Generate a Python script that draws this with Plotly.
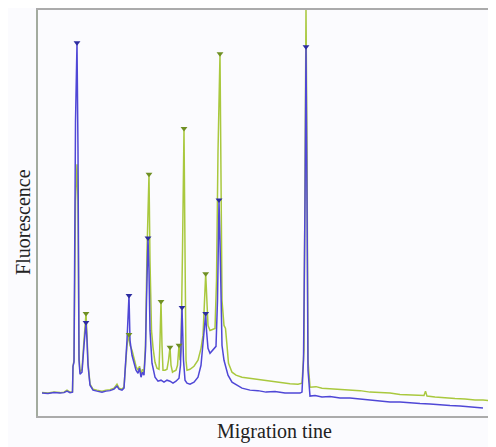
import plotly.graph_objects as go

# Migration time (arbitrary units) and fluorescence (arbitrary units)
blue_time = [4, 10, 16, 22, 26, 29, 32, 34.5, 35, 36, 37.5, 39, 40, 41, 42, 44, 46, 48, 49, 50,
             52, 55, 59, 64, 68, 72, 76, 79, 81, 84, 86, 87.5, 89, 91, 92, 94, 96, 98, 100, 101.5,
             103, 104.5, 106, 107.5, 108.5, 110, 111, 112, 114, 117, 120, 123, 126, 129, 132, 135,
             138, 141, 142.5, 144, 145.5, 147, 149, 152, 156, 160, 163, 165, 167.7, 168.5, 170, 172,
             174, 176, 178, 179.5, 181, 182, 183, 184, 186, 188, 190, 194, 200, 204, 212, 220, 228,
             237, 247, 257, 262, 264, 265.5, 267, 268, 269, 270, 272, 277, 284, 292, 302, 312, 322,
             332, 342, 352, 362, 372, 382, 392, 402, 412, 422, 432, 440, 445]
blue_signal = [23, 22.5, 23.5, 23, 23.5, 25, 23.5, 24, 50, 54, 296, 375, 266, 56, 42, 44, 71, 94, 76, 51,
               31, 26, 25, 24, 25, 25.5, 27, 30, 27, 26, 28, 50, 76, 121, 76, 61, 54, 46, 43, 48,
               39, 44, 41, 66, 116, 179, 146, 86, 53, 39, 35, 36, 34, 36, 35, 33,
               35, 38, 51, 109, 56, 36, 33, 32, 34, 39, 51, 71, 103, 86, 68, 63,
               65, 68, 70, 116, 217, 176, 96, 71, 56, 48, 41, 34, 30, 28, 26, 25.5, 24,
               24.5, 23, 23.5, 23, 24, 56, 216, 371, 216, 46, 20, 20.5, 19, 19.5, 18, 18, 17,
               16, 14.5, 14, 14, 13, 12.5, 12, 11, 10.5, 10, 9, 8.5, 8]

green_time = [4, 10, 16, 22, 26, 29, 32, 34.5, 35, 36, 37.5, 39, 40, 41, 42, 44, 46, 48, 49, 50,
              52, 55, 59, 64, 68, 72, 76, 79, 81, 84, 86, 87.5, 89, 91, 92, 94, 96, 98, 100, 101.5,
              103, 104.5, 106, 107.5, 109, 111, 112, 113.5, 115, 117, 119, 121, 122, 123, 124, 125,
              127, 129, 130.5, 132, 133, 134.5, 136, 138, 139.5, 141, 142, 143, 144.5, 146, 147, 148,
              149, 152, 156, 160, 163, 165, 167.7, 169, 170, 172, 175, 177, 178.5, 180, 182, 183,
              184, 186, 187.5, 189, 190.5, 194, 198, 204, 212, 222, 232, 242, 252, 260, 264, 266,
              267, 268, 269, 270, 272, 278, 284, 292, 302, 312, 322, 332, 342, 352, 362, 372, 382,
              386, 387.5, 389, 397, 407, 417, 427, 437, 445, 452]
green_signal = [23.5, 23, 24, 23.5, 24, 26, 24, 24.5, 50, 56, 216, 253, 216, 61, 44, 47, 76, 103, 81, 54,
                32, 27, 26, 25, 26, 26.5, 28, 32, 28, 27, 29, 54, 71, 82, 71, 66, 58, 50, 46, 50,
                42, 47, 44, 71, 166, 243, 156, 86, 69, 54, 48, 47, 76, 115, 71, 46,
                46, 47, 56, 69, 51, 44, 45, 46, 51, 71, 56, 66, 166, 289, 166, 56,
                46, 47, 50, 56, 68, 81, 143, 106, 91, 86, 87, 88, 136, 266, 364, 266,
                116, 91, 88, 71, 53, 44, 41, 39, 38, 36, 35, 34, 32.5, 32, 33, 66,
                266, 409, 266, 56, 29, 29.5, 28, 27.5, 27, 26, 25.5, 24, 23.5, 23, 21.5, 21, 20,
                20.5, 25, 20, 19, 18, 17.5, 17, 16, 16, 15.5]

# Peak apex markers
green_peak_time = [48, 91, 111, 123, 132, 141, 146, 167.7, 182, 268]
green_peak_signal = [103, 82, 243, 115, 69, 71, 289, 143, 364, 409]
blue_peak_time = [39, 48, 91, 110, 144, 167.7, 181, 268]
blue_peak_signal = [375, 94, 121, 179, 109, 103, 217, 371]

GREEN = "#a9c83e"
BLUE = "#4f47d6"

fig = go.Figure()
fig.add_trace(go.Scatter(x=green_time, y=green_signal, mode="lines",
                         line=dict(color=GREEN, width=1.5), hoverinfo="skip"))
fig.add_trace(go.Scatter(x=blue_time, y=blue_signal, mode="lines",
                         line=dict(color=BLUE, width=1.5), hoverinfo="skip"))
fig.add_trace(go.Scatter(x=green_peak_time, y=green_peak_signal, mode="markers",
                         marker=dict(symbol="triangle-down", size=6, color="#6f8f24"),
                         cliponaxis=False, hoverinfo="skip"))
fig.add_trace(go.Scatter(x=blue_peak_time, y=blue_peak_signal, mode="markers",
                         marker=dict(symbol="triangle-down", size=6, color="#2c2ca0"),
                         cliponaxis=False, hoverinfo="skip"))

# The page body has an 8px default margin, so the figure is sized to fit the 496x447 window.
fig.update_layout(
    width=488, height=439, autosize=False,
    margin=dict(l=30, r=0, t=0, b=31),
    paper_bgcolor="#fbfbfe", plot_bgcolor="#fbfbfe",
    showlegend=False,
    xaxis=dict(range=[0, 458], showgrid=False, zeroline=False, showticklabels=False,
               ticks="", showline=True, mirror=True, linecolor="#ababab", linewidth=1.5),
    yaxis=dict(range=[0, 408], showgrid=False, zeroline=False, showticklabels=False,
               ticks="", showline=True, mirror=False, linecolor="#a3ab9f", linewidth=1.5),
    annotations=[
        dict(text="Fluorescence", xref="paper", yref="paper", x=-0.0328, y=0.478,
             xanchor="center", yanchor="middle", textangle=-90, showarrow=False,
             font=dict(family="Liberation Serif", size=20, color="#222222")),
        dict(text="Migration tine", xref="paper", yref="paper", x=0.517, y=-0.039,
             xanchor="center", yanchor="middle", showarrow=False,
             font=dict(family="Liberation Serif", size=20, color="#222222")),
    ],
)

fig.write_html("out.html")
